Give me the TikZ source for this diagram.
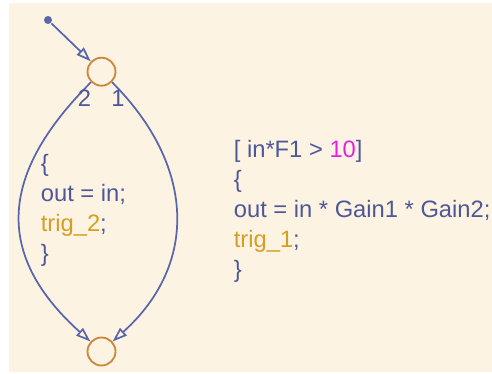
\documentclass[tikz,border=0pt]{standalone}
\usepackage{fontspec}
\setmainfont{Liberation Sans}
\usetikzlibrary{arrows.meta}
\definecolor{bgcream}{RGB}{253,243,226}
\definecolor{transblue}{RGB}{88,102,172}
\definecolor{textblue}{RGB}{78,88,152}
\definecolor{juncorange}{RGB}{206,136,62}
\definecolor{trigorange}{RGB}{214,158,36}
\definecolor{numpink}{RGB}{228,32,228}

\begin{document}
\begin{tikzpicture}[x=0.75pt,y=0.75pt,line width=1.3pt,>={Triangle[open,length=11pt,width=7.5pt]},
  trans/.style={draw=transblue,->},
  junc/.style={circle,draw=juncorange,line width=1.4pt,minimum size=21pt,inner sep=0pt},
  code/.style={align=left,anchor=base west,inner sep=0pt,text=textblue,font=\fontsize{17.8}{22.5}\selectfont},
  lbl/.style={anchor=base,inner sep=0pt,text=textblue,font=\fontsize{17.8}{22.5}\selectfont}]
  \useasboundingbox (0,0) rectangle (492,374);
  \fill[bgcream] (9,2) rectangle (492,371);
  % junctions and default transition
  \node[circle,fill=transblue,inner sep=0pt,minimum size=6pt] (dflt) at (48,354) {};
  \node[junc] (jtop) at (101.5,302.3) {};
  \node[junc] (jbot) at (101.5,22.5) {};
  \draw[trans] (dflt) -- (jtop);
  \draw[trans] (jtop) to[out=-135,in=138,looseness=1.28] (jbot);
  \draw[trans] (jtop) to[out=-45,in=42,looseness=1.15] (jbot);
  \node[lbl] (ord2) at (84.5,267) {2};
  \node[lbl] (ord1) at (118,267) {1};
  % transition labels (base = last line)
  \node[code] (act2) at (40,112) {\{\\out = in;\\\textcolor{trigorange}{trig\_2};\\\}};
  \node[code] (act1) at (233,96) {[ in*F1 > \textcolor{numpink}{10}]\\\{\\out = in * Gain1 * Gain2;\\\textcolor{trigorange}{trig\_1};\\\}};
\end{tikzpicture}
\end{document}
